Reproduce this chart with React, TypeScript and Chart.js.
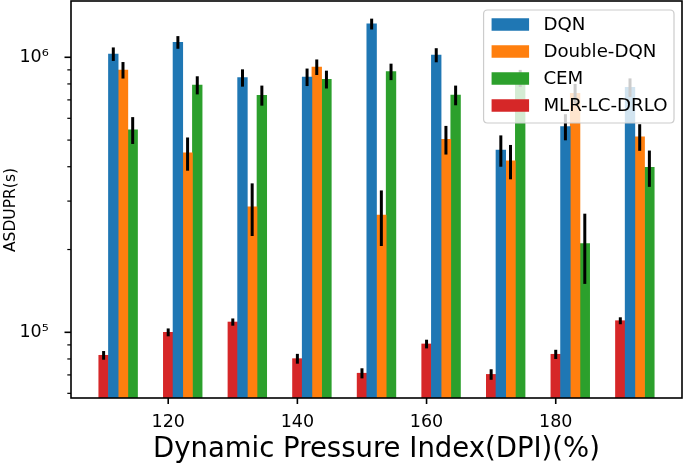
import React, { useEffect, useRef } from "react";
import { Chart, registerables } from "chart.js";

Chart.register(...registerables);

// ---------------- data ----------------
const groups = [110, 120, 130, 140, 150, 160, 170, 180, 190];
const seriesNames = ["DQN", "Double-DQN", "CEM", "MLR-LC-DRLO"];
const seriesOffsets = [1.5, 3, 4.5, 0];

const dqn = [1028000, 1134000, 843000, 848000, 1322000, 1019000, 460000, 560000, 778000];
const doubleDqn = [899000, 449000, 286000, 922000, 267000, 503000, 420000, 740000, 514000];
const cem = [545000, 793000, 728000, 832000, 887000, 729000, 840000, 210000, 398000];
const mlr = [82500, 100000, 109000, 80200, 71000, 90700, 70300, 83200, 110200];

const dqnErr = [58000, 60000, 61000, 62000, 60000, 60000, 60000, 61000, 60000];
const doubleDqnErr = [62000, 62000, 62000, 60000, 61000, 60000, 60000, 60000, 57000];
const cemErr = [61000, 60000, 61000, 62000, 61000, 60000, 60000, 60000, 60000];
const mlrErr = [3000, 3300, 3300, 3300, 3000, 3300, 3100, 3200, 3200];

const xTicks = [120, 140, 160, 180];
const xMin = 104.95;
const xMax = 199.55;
const yMin = 57700;
const yMax = 1602000;
const yMajorTicks = [100000, 1000000];
const yMinorTicks = [60000, 70000, 80000, 90000, 200000, 300000, 400000, 500000, 600000, 700000, 800000, 900000];
const yTickLabels: Record<number, string> = { 100000: "10\u2075", 1000000: "10\u2076" };

const xTitle = "Dynamic Pressure Index(DPI)(%)";
const yTitle = "ASDUPR(s)";

// ---------------- styles ----------------
const seriesColors = ["#1f77b4", "#ff7f0e", "#2ca02c", "#d62728"];
const FONT = '"DejaVu Sans"';

const seriesValues = [dqn, doubleDqn, cem, mlr];
const seriesErrors = [dqnErr, doubleDqnErr, cemErr, mlrErr];

const decorPlugin = {
  id: "mplDecor",
  afterDatasetsDraw(chart: any) {
    const { ctx, chartArea } = chart;
    const ys = chart.scales.y;
    const xs = chart.scales.x;
    ctx.save();
    // error bars
    ctx.beginPath();
    ctx.rect(chartArea.left, chartArea.top, chartArea.right - chartArea.left, chartArea.bottom - chartArea.top);
    ctx.clip();
    ctx.strokeStyle = "#000";
    ctx.lineWidth = 3;
    ctx.lineCap = "butt";
    seriesValues.forEach((vals, s) => {
      const meta = chart.getDatasetMeta(s);
      vals.forEach((v, j) => {
        const el = meta.data[j];
        if (!el) return;
        const e = seriesErrors[s][j];
        const y1 = ys.getPixelForValue(v + e);
        const y2 = ys.getPixelForValue(Math.max(v - e, 1));
        ctx.beginPath();
        ctx.moveTo(el.x, y1);
        ctx.lineTo(el.x, y2);
        ctx.stroke();
      });
    });
    ctx.restore();

    ctx.save();
    // spines
    ctx.strokeStyle = "#000";
    ctx.lineWidth = 1.6;
    ctx.strokeRect(chartArea.left, chartArea.top, chartArea.right - chartArea.left, chartArea.bottom - chartArea.top);
    // y ticks
    ys.ticks.forEach((t: any) => {
      const y = ys.getPixelForValue(t.value);
      const major = yMajorTicks.includes(t.value);
      const len = major ? 6.5 : 3.7;
      ctx.lineWidth = major ? 1.6 : 1.2;
      ctx.beginPath();
      ctx.moveTo(chartArea.left - len, y);
      ctx.lineTo(chartArea.left, y);
      ctx.stroke();
    });
    // x ticks
    ctx.lineWidth = 1.6;
    xs.ticks.forEach((t: any) => {
      const x = xs.getPixelForValue(t.value);
      ctx.beginPath();
      ctx.moveTo(x, chartArea.bottom);
      ctx.lineTo(x, chartArea.bottom + 6);
      ctx.stroke();
    });
    ctx.restore();
  },
  afterDraw(chart: any) {
    const { ctx, chartArea } = chart;
    ctx.save();
    // legend
    const fs = 18.2;
    ctx.font = `${fs}px ${FONT}`;
    const textW = Math.max(...seriesNames.map((n) => ctx.measureText(n).width));
    const padL = 8, handleW = 37.5, handleH = 12.5, gap = 14.3, padR = 6.5, rowH = 27, padT = 14.5, padB = 17.5;
    const w = padL + handleW + gap + textW + padR;
    const h = padT + rowH * (seriesNames.length - 1) + padB;
    const right = chartArea.right - 8;
    const top = chartArea.top + 9;
    const left = right - w;
    const r = 4;
    ctx.beginPath();
    ctx.moveTo(left + r, top);
    ctx.lineTo(left + w - r, top);
    ctx.quadraticCurveTo(left + w, top, left + w, top + r);
    ctx.lineTo(left + w, top + h - r);
    ctx.quadraticCurveTo(left + w, top + h, left + w - r, top + h);
    ctx.lineTo(left + r, top + h);
    ctx.quadraticCurveTo(left, top + h, left, top + h - r);
    ctx.lineTo(left, top + r);
    ctx.quadraticCurveTo(left, top, left + r, top);
    ctx.closePath();
    ctx.fillStyle = "rgba(255,255,255,0.8)";
    ctx.fill();
    ctx.strokeStyle = "#cccccc";
    ctx.lineWidth = 1.2;
    ctx.stroke();
    seriesNames.forEach((name, i) => {
      const cy = top + padT + i * rowH;
      ctx.fillStyle = seriesColors[i];
      ctx.fillRect(left + padL, cy - handleH / 2, handleW, handleH);
      ctx.fillStyle = "#000";
      ctx.textBaseline = "middle";
      ctx.textAlign = "left";
      ctx.fillText(name, left + padL + handleW + gap, cy + 1);
    });

    // axis titles
    ctx.fillStyle = "#000";
    ctx.font = `27.5px ${FONT}`;
    ctx.textAlign = "center";
    ctx.textBaseline = "alphabetic";
    ctx.fillText(xTitle, (chartArea.left + chartArea.right) / 2, 457);

    ctx.translate(15, 210);
    ctx.rotate(-Math.PI / 2);
    ctx.font = `15.5px ${FONT}`;
    ctx.fillText(yTitle, 0, 0);
    ctx.restore();
  },
};

export default function App() {
  const ref = useRef<HTMLCanvasElement>(null);

  useEffect(() => {
    document.body.style.margin = "0";
    if (!ref.current) return;
    Chart.defaults.font.family = FONT;
    const datasets = seriesNames.map((name, s) => ({
      label: name,
      data: groups.map((g, j) => ({ x: g + seriesOffsets[s], y: seriesValues[s][j] })),
      backgroundColor: seriesColors[s],
      borderWidth: 0,
      grouped: false,
      barPercentage: 1,
      categoryPercentage: 1,
    }));
    const chart = new Chart(ref.current, {
      type: "bar",
      data: { datasets } as any,
      plugins: [decorPlugin],
      options: {
        animation: false,
        responsive: true,
        maintainAspectRatio: false,
        layout: { padding: { top: 1, right: 3, left: 0, bottom: 0 } },
        plugins: {
          legend: { display: false },
          tooltip: { enabled: false },
        },
        scales: {
          x: {
            type: "linear",
            min: xMin,
            max: xMax,
            offset: false,
            grid: { display: false },
            border: { display: false },
            afterBuildTicks: (scale: any) => {
              scale.ticks = xTicks.map((v) => ({ value: v }));
            },
            afterFit: (scale: any) => {
              scale.height = 65;
              scale.paddingLeft = 0;
              scale.paddingRight = 0;
              scale.paddingTop = 0;
              scale.paddingBottom = 0;
            },
            ticks: {
              autoSkip: false,
              maxRotation: 0,
              padding: 6,
              color: "#000",
              font: { family: FONT, size: 17.5 },
              callback: (v: any) => String(v),
            },
          },
          y: {
            type: "logarithmic",
            min: yMin,
            max: yMax,
            grid: { display: false },
            border: { display: false },
            afterBuildTicks: (scale: any) => {
              scale.ticks = [...yMinorTicks, ...yMajorTicks]
                .sort((a, b) => a - b)
                .map((v) => ({ value: v, major: yMajorTicks.includes(v) }));
            },
            afterFit: (scale: any) => {
              scale.width = 71;
              scale.paddingLeft = 0;
              scale.paddingRight = 0;
              scale.paddingTop = 0;
              scale.paddingBottom = 0;
            },
            ticks: {
              autoSkip: false,
              padding: 14.3,
              color: "#000",
              font: { family: FONT, size: 17.5 },
              callback: (v: any) => yTickLabels[v as number] ?? "",
            },
          },
        },
      } as any,
    });
    return () => chart.destroy();
  }, []);

  return (
    <div style={{ width: 685, height: 463, position: "relative" }}>
      <canvas ref={ref} />
    </div>
  );
}
